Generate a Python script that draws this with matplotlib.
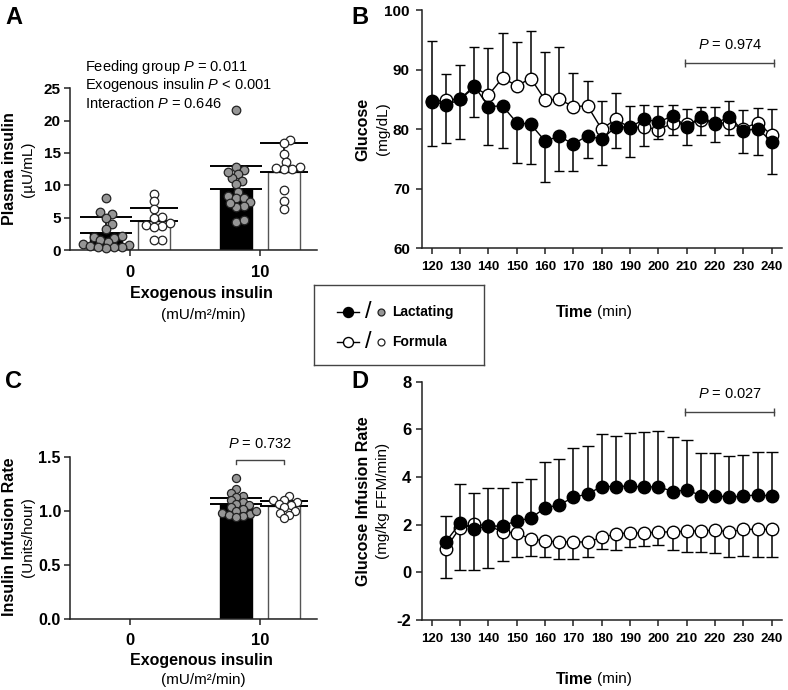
import numpy as np
import matplotlib
matplotlib.use('Agg')
import matplotlib.pyplot as plt

plt.rcParams['font.family'] = ['Liberation Sans', 'DejaVu Sans']
plt.rcParams['mathtext.fontset'] = 'custom'
plt.rcParams['mathtext.rm'] = 'Liberation Sans'
plt.rcParams['mathtext.it'] = 'Liberation Sans:italic'
plt.rcParams['axes.unicode_minus'] = False

W, H = 788, 690

# ---- panel A: plasma insulin (uU/mL) ----
groups = ['0', '10']
ins_lact_mean = [2.6, 9.4]
ins_lact_sd = [2.5, 3.6]
ins_form_mean = [4.5, 12.0]
ins_form_sd = [2.0, 4.6]
ins_lact_0 = [8.1, 5.8, 5.5, 5.0, 4.0, 3.2, 2.2, 2.0, 1.8, 1.5, 1.3, 1.0, 0.8, 0.6, 0.5, 0.4, 0.3, 0.5]
ins_form_0 = [8.7, 7.6, 6.3, 5.1, 4.9, 4.1, 3.9, 3.7, 3.6, 1.5, 1.5]
ins_lact_10 = [21.6, 12.9, 12.4, 11.7, 11.1, 10.7, 10.2, 9.0, 8.3, 8.0, 8.1, 7.4, 6.8, 6.7, 7.2, 4.4, 4.7, 12.0]
ins_form_10 = [17.0, 16.5, 14.8, 13.6, 12.9, 12.6, 12.6, 12.7, 9.3, 7.5, 6.4]
stats_a = ['Feeding group $\\it{P}$ = 0.011',
           'Exogenous insulin $\\it{P}$ < 0.001',
           'Interaction $\\it{P}$ = 0.646']

# ---- panel C: insulin infusion rate (Units/hour), only at 10 ----
iir_lact_mean = 1.06
iir_lact_sd = 0.06
iir_form_mean = 1.04
iir_form_sd = 0.05
iir_lact = [1.30, 1.20, 1.16, 1.14, 1.13, 1.10, 1.08, 1.06, 1.05, 1.03, 1.02, 1.00, 0.98, 0.97, 0.96, 0.95, 0.94, 1.00]
iir_form = [1.14, 1.10, 1.10, 1.08, 1.06, 1.05, 1.03, 1.00, 0.98, 0.96, 0.93]

# ---- panel B: glucose (mg/dL) ----
t_b = list(range(120, 245, 5))
glu_lact = [84.8, 84.0, 85.0, 87.3, 83.8, 83.9, 81.1, 80.8, 78.0, 78.8, 77.5, 78.9, 78.3,
            80.4, 80.3, 81.7, 81.2, 82.2, 80.4, 82.1, 80.9, 82.1, 79.7, 80.1, 77.9]
glu_lact_sd = [7.7, 6.4, 6.7, 5.3, 6.4, 7.0, 6.8, 6.7, 6.9, 5.8, 4.5, 3.7, 4.3,
               3.5, 4.9, 4.5, 2.8, 3.2, 3.1, 3.1, 3.0, 3.0, 3.7, 4.4, 5.4]
glu_form = [84.6, 84.9, 85.0, 87.0, 85.7, 88.6, 87.3, 88.5, 84.9, 85.0, 83.8, 83.9, 80.0,
            81.7, 80.2, 80.4, 79.9, 81.0, 80.8, 81.5, 81.0, 81.0, 80.1, 81.1, 79.0]
glu_form_sd = [10.2, 4.3, 5.8, 6.8, 8.0, 7.5, 7.3, 8.0, 8.0, 8.8, 5.6, 4.2, 4.8,
               4.4, 3.7, 3.6, 4.0, 3.0, 2.5, 2.3, 2.7, 3.8, 3.1, 2.4, 4.3]

# ---- panel D: glucose infusion rate (mg/kg FFM/min) ----
t_d = list(range(125, 245, 5))
gir_lact = [1.29, 2.06, 1.82, 1.94, 1.94, 2.17, 2.27, 2.71, 2.83, 3.15, 3.29, 3.60,
            3.60, 3.62, 3.57, 3.60, 3.39, 3.46, 3.22, 3.22, 3.15, 3.20, 3.25, 3.20]
gir_lact_sd = [1.09, 1.63, 1.52, 1.59, 1.59, 1.63, 1.63, 1.93, 1.93, 2.05, 2.01, 2.19,
               2.13, 2.24, 2.32, 2.33, 2.30, 2.09, 1.80, 1.80, 1.75, 1.72, 1.81, 1.86]
gir_form = [1.00, 1.88, 2.03, 1.95, 1.71, 1.64, 1.40, 1.33, 1.26, 1.29, 1.26, 1.47,
            1.61, 1.66, 1.64, 1.70, 1.69, 1.73, 1.74, 1.77, 1.70, 1.80, 1.81, 1.80]
gir_form_sd = [1.25, 1.78, 1.93, 1.75, 1.22, 0.98, 0.70, 0.67, 0.71, 0.74, 0.60, 0.47,
               0.67, 0.61, 0.54, 0.55, 0.75, 0.86, 0.87, 0.97, 1.04, 1.10, 1.15, 1.14]

GRAY = '#969696'


def rect(left, top, right, bottom):
    # pixel box (from top-left) -> figure fraction
    return [left / W, 1 - bottom / H, (right - left) / W, (bottom - top) / H]


def ftext(x, y, s, **kw):
    kw.setdefault('ha', 'center')
    kw.setdefault('va', 'center')
    fig.text(x / W, 1 - y / H, s, **kw)


def swarm(vals, diam, ypx):
    # simple greedy beeswarm, offsets returned in pixels
    vals = np.asarray(vals, float)
    offs = np.zeros(len(vals))
    placed = []
    for i in np.argsort(vals):
        y = vals[i] * ypx
        k = 0
        found = None
        while found is None:
            cands = [0.0] if k == 0 else [k * diam * 0.3, -k * diam * 0.3]
            for c in cands:
                if all((c - px) ** 2 + (y - py) ** 2 >= diam ** 2 for px, py in placed):
                    found = c
                    break
            k += 1
        placed.append((found, y))
        offs[i] = found
    return offs


def style(ax, xsize, ysize, xpad, ypad):
    for s in ['top', 'right']:
        ax.spines[s].set_visible(False)
    for s in ['left', 'bottom']:
        ax.spines[s].set_linewidth(1.1)
        ax.spines[s].set_color('#222222')
    ax.tick_params(axis='x', direction='out', length=4.5, width=1.1, color='#222222',
                   labelsize=xsize, pad=xpad)
    ax.tick_params(axis='y', direction='out', length=4.5, width=1.1, color='#222222',
                   labelsize=ysize, pad=ypad)
    for lab in ax.get_xticklabels() + ax.get_yticklabels():
        lab.set_fontweight('bold')


fig = plt.figure(figsize=(W / 100, H / 100), dpi=100)

# ================= A =================
axA = fig.add_axes(rect(70, 88.3, 317, 250))
off = 0.185
bw = 0.25
xg = np.arange(len(groups))
axA.bar(xg - off, ins_lact_mean, bw, color='black', edgecolor='black', lw=1, zorder=2)
axA.bar(xg + off, ins_form_mean, bw, color='white', edgecolor='#555555', lw=1, zorder=2)
axA.errorbar(xg - off, ins_lact_mean, yerr=[np.zeros(2), ins_lact_sd], fmt='none',
             ecolor='black', elinewidth=1.2, capsize=19, capthick=1.4, zorder=3)
axA.errorbar(xg + off, ins_form_mean, yerr=[np.zeros(2), ins_form_sd], fmt='none',
             ecolor='black', elinewidth=1.2, capsize=17, capthick=1.4, zorder=3)
xpx_a = 130.0
ypx_a = 161.7 / 25
for gx, vals, fc in [(0 - off, ins_lact_0, GRAY), (0 + off, ins_form_0, 'white'),
                     (1 - off, ins_lact_10, GRAY), (1 + off, ins_form_10, 'white')]:
    dx = swarm(vals, 6.5, ypx_a) / xpx_a
    axA.scatter(gx + dx, vals, s=38, c=fc, edgecolors='#222222', linewidths=0.9,
                zorder=4, clip_on=False)
axA.set_xlim(-0.4615, 1.4385)
axA.set_ylim(0, 25)
axA.set_yticks([0, 5, 10, 15, 20, 25])
axA.set_xticks(xg)
axA.set_xticklabels(groups)
style(axA, 12, 11, 6, 2)
for i, s in enumerate(stats_a):
    ftext(85, 67 + 18 * i, s, ha='left', fontsize=10.5)

ftext(10, 169, 'Plasma insulin', rotation=90, fontsize=11.5, fontweight='bold')
ftext(28, 169, '(µU/mL)', rotation=90, fontsize=11)
ftext(201, 293, 'Exogenous insulin', fontsize=11.5, fontweight='bold')
ftext(203, 315, '(mU/m²/min)', fontsize=11)

# ================= C =================
axC = fig.add_axes(rect(70, 456.7, 317, 618.7))
axC.bar([1 - off], [iir_lact_mean], bw, color='black', edgecolor='black', lw=1, zorder=2)
axC.bar([1 + off], [iir_form_mean], bw, color='white', edgecolor='#555555', lw=1, zorder=2)
axC.errorbar([1 - off], [iir_lact_mean], yerr=[[0], [iir_lact_sd]], fmt='none',
             ecolor='black', elinewidth=1.2, capsize=19, capthick=1.4, zorder=3)
axC.errorbar([1 + off], [iir_form_mean], yerr=[[0], [iir_form_sd]], fmt='none',
             ecolor='black', elinewidth=1.2, capsize=17, capthick=1.4, zorder=3)
ypx_c = 162.0 / 1.5
for gx, vals, fc in [(1 - off, iir_lact, GRAY), (1 + off, iir_form, 'white')]:
    dx = swarm(vals, 6.0, ypx_c) / xpx_a
    axC.scatter(gx + dx, vals, s=34, c=fc, edgecolors='#222222', linewidths=0.9, zorder=4)
axC.plot([1 - off, 1 - off, 1 + off, 1 + off], [1.43, 1.47, 1.47, 1.43], color='#444444', lw=1)
axC.text(1, 1.55, '$\\it{P}$ = 0.732', ha='center', va='bottom', fontsize=10.5)
axC.set_xlim(-0.4615, 1.4385)
axC.set_ylim(0, 1.5)
axC.set_yticks([0, 0.5, 1.0, 1.5])
axC.set_yticklabels(['0.0', '0.5', '1.0', '1.5'])
axC.set_xticks(xg)
axC.set_xticklabels(groups)
style(axC, 12, 11.5, 6, 2)

ftext(10, 537, 'Insulin Infusion Rate', rotation=90, fontsize=11.5, fontweight='bold')
ftext(28, 537, '(Units/hour)', rotation=90, fontsize=11)
ftext(201, 660, 'Exogenous insulin', fontsize=11.5, fontweight='bold')
ftext(203, 680, '(mU/m²/min)', fontsize=11)

# ================= B =================
axB = fig.add_axes(rect(421.7, 10, 781.7, 248.3))
axB.errorbar(t_b, glu_form, yerr=[np.zeros(len(t_b)), glu_form_sd], fmt='-o', color='black',
             mfc='white', mec='black', ms=9, mew=1, lw=1, elinewidth=1.1, capsize=3.3,
             capthick=1.1, zorder=3, clip_on=False)
axB.errorbar(t_b, glu_lact, yerr=[glu_lact_sd, np.zeros(len(t_b))], fmt='-o', color='black',
             mfc='black', mec='black', ms=9, mew=1, lw=1, elinewidth=1.1, capsize=3.3,
             capthick=1.1, zorder=4, clip_on=False)
axB.plot([209.5, 240.8], [91.05, 91.05], color='#444444', lw=1, marker='|', ms=6, mew=1)
axB.text(225.5, 94.1, '$\\it{P}$ = 0.974', ha='center', va='center', fontsize=10.5)
axB.set_xlim(116.47, 243.53)
axB.set_ylim(60, 100)
axB.set_yticks([60, 70, 80, 90, 100])
axB.set_xticks(range(120, 250, 10))
style(axB, 9.5, 11, 5, 4)
ftext(363, 129, 'Glucose', rotation=90, fontsize=11.5, fontweight='bold')
ftext(383, 129, '(mg/dL)', rotation=90, fontsize=11)
ftext(593, 312, 'Time', ha='right', fontsize=11.5, fontweight='bold')
ftext(597, 312, '(min)', ha='left', fontsize=11)

# ================= D =================
axD = fig.add_axes(rect(421.7, 381.7, 781.7, 620))
axD.errorbar(t_d, gir_form, yerr=[gir_form_sd, np.zeros(len(t_d))], fmt='-o', color='black',
             mfc='white', mec='black', ms=9, mew=1, lw=1, elinewidth=1.1, capsize=4.2,
             capthick=1.1, zorder=3)
axD.errorbar(t_d, gir_lact, yerr=[np.zeros(len(t_d)), gir_lact_sd], fmt='-o', color='black',
             mfc='black', mec='black', ms=9, mew=1, lw=1, elinewidth=1.1, capsize=4.2,
             capthick=1.1, zorder=4)
axD.plot([209.5, 240.8], [6.71, 6.71], color='#444444', lw=1, marker='|', ms=6, mew=1)
axD.text(225.5, 7.5, '$\\it{P}$ = 0.027', ha='center', va='center', fontsize=10.5)
axD.set_xlim(116.47, 243.53)
axD.set_ylim(-2, 8)
axD.set_yticks([-2, 0, 2, 4, 6, 8])
axD.set_xticks(range(120, 250, 10))
style(axD, 9.5, 12, 5, 3)
ftext(363, 501, 'Glucose Infusion Rate', rotation=90, fontsize=11.5, fontweight='bold')
ftext(383, 501, '(mg/kg FFM/min)', rotation=90, fontsize=11)
ftext(593, 679, 'Time', ha='right', fontsize=11.5, fontweight='bold')
ftext(597, 679, '(min)', ha='left', fontsize=11)

# ================= legend box =================
lax = fig.add_axes(rect(314, 285, 484, 365))
lax.set_xlim(314, 484)
lax.set_ylim(365, 285)
lax.set_xticks([])
lax.set_yticks([])
for s in lax.spines.values():
    s.set_linewidth(1)
    s.set_color('#444444')
for yy, fc, big_fc, name in [(311.7, 'black', GRAY, 'Lactating'), (341.7, 'white', 'white', 'Formula')]:
    lax.plot([337, 359], [yy, yy], color='black', lw=1)
    lax.plot([348], [yy], 'o', mfc=fc, mec='black', ms=7.2, mew=1)
    lax.text(368, yy, '/', ha='center', va='center', fontsize=17)
    lax.plot([381], [yy], 'o', mfc=big_fc, mec='#222222', ms=5, mew=0.9)
    lax.text(392, yy, name, ha='left', va='center', fontsize=10, fontweight='bold')

# panel letters
for x, y, s in [(14, 18, 'A'), (360, 18, 'B'), (13, 381, 'C'), (360, 381, 'D')]:
    ftext(x, y, s, fontsize=17, fontweight='bold')

fig.savefig('out.png', dpi=100)
